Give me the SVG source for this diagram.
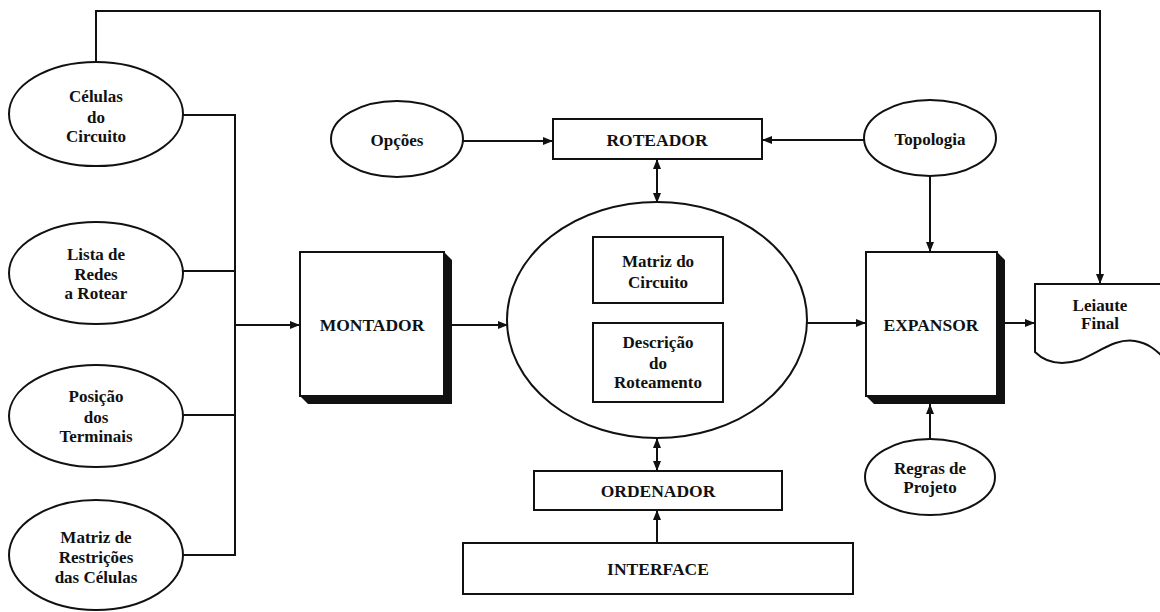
<svg xmlns="http://www.w3.org/2000/svg" width="1160" height="612" viewBox="0 0 1160 612">
  <style>
    .shape { fill: #fff; stroke: #111; stroke-width: 2; }
    .shadow { fill: #111; stroke: none; }
    .wire { fill: none; stroke: #111; stroke-width: 2; }
    .arrow { fill: none; stroke: #111; stroke-width: 2; marker-end: url(#head); }
    .both { fill: none; stroke: #111; stroke-width: 2; marker-start: url(#head); marker-end: url(#head); }
    text { font-family: "Liberation Serif", "Times New Roman", serif; font-weight: bold; font-size: 17px; fill: #111; text-anchor: middle; }
    .big { font-size: 17.5px; }
  </style>
  <defs>
    <marker id="head" viewBox="0 0 10 8" refX="10" refY="4" markerWidth="10" markerHeight="8" markerUnits="userSpaceOnUse" orient="auto-start-reverse">
      <path d="M0,0 L10,4 L0,8 Z" fill="#111"/>
    </marker>
  </defs>
  <rect width="1160" height="612" fill="#fff"/>

  <!-- connectors -->
  <g id="connectors">
    <path class="arrow" d="M96,62 L96,11 L1100,11 L1100,284"/>
    <path class="wire" d="M182,115 L235,115 L235,555 L182,555"/>
    <path class="wire" d="M182,271 L235,271"/>
    <path class="wire" d="M182,415 L235,415"/>
    <path class="arrow" d="M235,325 L300,325"/>
    <path class="arrow" d="M452,325 L508,325"/>
    <path class="arrow" d="M807,323 L866,323"/>
    <path class="arrow" d="M1005,323 L1035,323"/>
    <path class="arrow" d="M463,141 L553,141"/>
    <path class="arrow" d="M865,140 L762,140"/>
    <path class="arrow" d="M930,176 L930,252"/>
    <path class="arrow" d="M930,440 L930,404"/>
    <path class="both" d="M657,159 L657,203"/>
    <path class="both" d="M657,438 L657,471"/>
    <path class="arrow" d="M657,543 L657,510"/>
  </g>

  <!-- input data on the left -->
  <g id="celulas">
    <ellipse class="shape" cx="96" cy="114" rx="87" ry="52"/>
    <text x="96" y="102">Células</text>
    <text x="96" y="123">do</text>
    <text x="96" y="142">Circuito</text>
  </g>
  <g id="lista">
    <ellipse class="shape" cx="96" cy="273" rx="87" ry="51"/>
    <text x="96" y="260">Lista de</text>
    <text x="96" y="280">Redes</text>
    <text x="96" y="299">a Rotear</text>
  </g>
  <g id="posicao">
    <ellipse class="shape" cx="96" cy="416" rx="87" ry="51"/>
    <text x="96" y="402">Posição</text>
    <text x="96" y="423">dos</text>
    <text x="96" y="442">Terminais</text>
  </g>
  <g id="matriz-restricoes">
    <ellipse class="shape" cx="96" cy="555" rx="87" ry="55"/>
    <text x="96" y="543">Matriz de</text>
    <text x="96" y="563">Restrições</text>
    <text x="96" y="583">das Células</text>
  </g>

  <!-- processing blocks -->
  <g id="montador">
    <polygon class="shadow" points="444,252 452,260 452,404 308,404 300,396 444,396"/>
    <rect class="shape" x="300" y="252" width="144" height="144"/>
    <text class="big" x="372" y="331">MONTADOR</text>
  </g>
  <g id="opcoes">
    <ellipse class="shape" cx="397" cy="139" rx="66" ry="38"/>
    <text x="397" y="146">Opções</text>
  </g>
  <g id="roteador">
    <rect class="shape" x="553" y="119" width="209" height="40"/>
    <text class="big" x="657" y="146">ROTEADOR</text>
  </g>
  <g id="base-dados">
    <ellipse class="shape" cx="657" cy="320" rx="150" ry="118"/>
    <rect class="shape" x="593" y="237" width="130" height="66"/>
    <text x="658" y="267">Matriz do</text>
    <text x="658" y="288">Circuito</text>
    <rect class="shape" x="593" y="323" width="130" height="79"/>
    <text x="658" y="348">Descrição</text>
    <text x="658" y="369">do</text>
    <text x="658" y="388">Roteamento</text>
  </g>
  <g id="ordenador">
    <rect class="shape" x="534" y="471" width="248" height="39"/>
    <text class="big" x="658" y="497">ORDENADOR</text>
  </g>
  <g id="interface">
    <rect class="shape" x="463" y="543" width="390" height="51"/>
    <text class="big" x="658" y="575">INTERFACE</text>
  </g>
  <g id="topologia">
    <ellipse class="shape" cx="930" cy="138" rx="66" ry="38"/>
    <text x="930" y="145">Topologia</text>
  </g>
  <g id="expansor">
    <polygon class="shadow" points="997,252 1005,260 1005,404 874,404 866,396 997,396"/>
    <rect class="shape" x="866" y="252" width="131" height="144"/>
    <text class="big" x="931" y="331">EXPANSOR</text>
  </g>
  <g id="regras">
    <ellipse class="shape" cx="930" cy="477" rx="65" ry="38"/>
    <text x="930" y="474">Regras de</text>
    <text x="930" y="493">Projeto</text>
  </g>
  <g id="leiaute">
    <path class="shape" d="M1035,352 L1035,284 L1164,284 L1164,358 C1156,350 1148,343 1135,341 C1115,338 1100,352 1080,360 C1060,366 1045,362 1035,352 Z"/>
    <text x="1100" y="311">Leiaute</text>
    <text x="1100" y="329">Final</text>
  </g>
</svg>
